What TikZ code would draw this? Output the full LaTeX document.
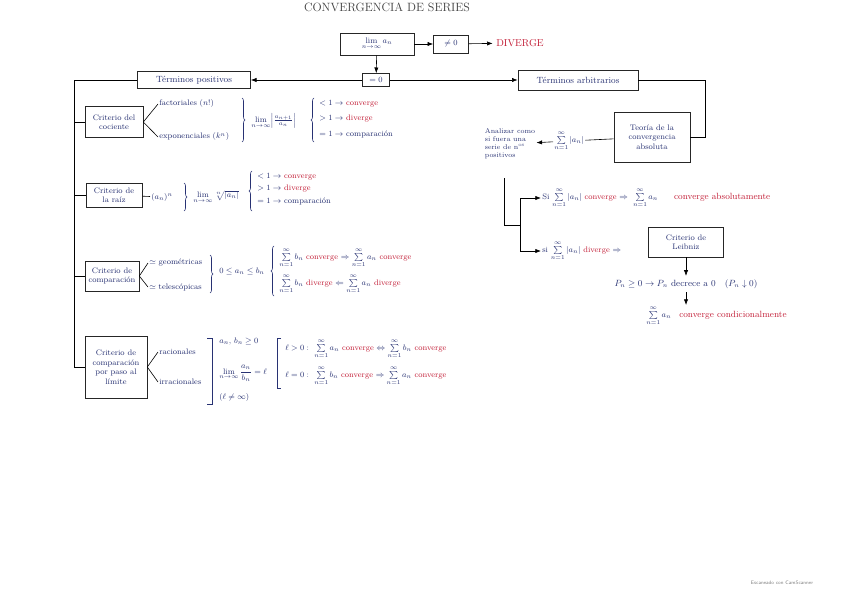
\documentclass[tikz,border=0pt]{standalone}
\usepackage{amsmath}
\usepackage{amssymb}
\usetikzlibrary{arrows.meta,positioning,decorations.pathreplacing}
\definecolor{ink}{RGB}{40,50,115}
\definecolor{rojo}{RGB}{195,30,55}
\newcommand{\cv}{\textcolor{rojo}{converge}}
\newcommand{\dv}{\textcolor{rojo}{diverge}}

\begin{document}
\begin{tikzpicture}[x=1pt,y=-1pt,font=\footnotesize,text=ink,line width=0.6pt,
  b/.style={draw=black!85,align=center,inner sep=2pt},
  l/.style={anchor=west,inner sep=1pt},
  br/.style={draw=ink,decorate,decoration={brace,amplitude=3pt}}]
\useasboundingbox[fill=white] (0,0) rectangle (848,599);

% arriba
\node[font=\large,text=black!75] (tit) at (387,7) {CONVERGENCIA DE SERIES};
\node[b,minimum width=74,minimum height=22] (lim) at (377,44) {$\lim\limits_{n\to\infty} a_n$};
\node[b,minimum width=35,minimum height=18] (ne) at (451,44) {$\neq 0$};
\node[text=rojo,font=\normalsize] (dv) at (520,43) {DIVERGE};
\node[b,minimum width=27,minimum height=13] (eq) at (376,80) {$=0$};
\node[b,minimum width=113,minimum height=17,font=\small] (tp) at (194,80) {Términos positivos};
\node[b,minimum width=120,minimum height=20,font=\small] (ta) at (578,80) {Términos arbitrarios};
\draw[-{Latex}] (lim) -- (ne);
\draw[-{Latex}] (ne) -- (dv);
\draw[-{Latex}] (lim) -- (eq);
\draw[-{Latex}] (eq) -- (tp);
\draw[-{Latex}] (eq) -- (ta);

% terminos positivos
\node[b,minimum width=58,minimum height=31] (cc) at (114,122) {Criterio del\\cociente};
\node[b,minimum width=56,minimum height=24] (rz) at (114,195) {Criterio de\\la raíz};
\node[b,minimum width=54,minimum height=30] (cp) at (112,276) {Criterio de\\comparación};
\node[b,minimum width=62,minimum height=62] (lp) at (116,367) {Criterio de\\comparación\\por paso al\\límite};
\coordinate (sp) at (74,80);
\draw (tp) -- (sp) |- (lp);
\foreach \n in {cc,rz,cp} \draw (sp|-\n) -- (\n);

% cociente
\node[l] (fa) at (158,104) {factoriales $(n!)$};
\node[l] (ex) at (158,137) {exponenciales $(k^n)$};
\draw (cc.east) -- (fa.west);
\draw (cc.east) -- (ex.west);
\draw[br] (242,98) -- (242,142);
\node[l] (lc) at (250,121) {$\lim\limits_{n\to\infty}\Bigl|\frac{a_{n+1}}{a_n}\Bigr|$};
\draw[br] (314,142) -- (314,98);
\foreach \y/\t in {104/{$<1\to$ \cv},119/{$>1\to$ \dv},134/{$=1\to$ comparación}}
  \node[l] (c\y) at (318,\y) {\t};

% raiz
\node[l] (pw) at (150,197) {$(a_n)^n$};
\draw (rz) -- (pw);
\draw[br] (184,183) -- (184,211);
\node[l] (lr) at (192,197) {$\lim\limits_{n\to\infty}\sqrt[n]{|a_n|}$};
\draw[br] (252,211) -- (252,171);
\foreach \y/\t in {177/{$<1\to$ \cv},189/{$>1\to$ \dv},201/{$=1\to$ comparación}}
  \node[l] (r\y) at (256,\y) {\t};

% comparacion
\node[l] (ge) at (148,263) {$\simeq$ geométricas};
\node[l] (te) at (148,287) {$\simeq$ telescópicas};
\draw (cp.east) -- (ge.west);
\draw (cp.east) -- (te.west);
\draw[br] (210,255) -- (210,293);
\node[l] (ab) at (218,271) {$0\le a_n\le b_n$};
\draw[br] (274,296) -- (274,246);
\node[l] (m1) at (278,258) {$\sum\limits_{n=1}^{\infty} b_n$ \cv{} $\Rightarrow\sum\limits_{n=1}^{\infty} a_n$ \cv};
\node[l] (m2) at (278,284) {$\sum\limits_{n=1}^{\infty} b_n$ \dv{} $\Leftarrow\sum\limits_{n=1}^{\infty} a_n$ \dv};

% paso al limite
\node[l] (ra) at (158,352) {racionales};
\node[l] (ir) at (158,382) {irracionales};
\draw (lp.east) -- (ra.west);
\draw (lp.east) -- (ir.west);
\draw[ink] (207,338) -- (212,338) -- (212,404) -- (207,404);
\node[l] (ps) at (218,341) {$a_n,\,b_n\ge 0$};
\node[l] (ll) at (218,373) {$\lim\limits_{n\to\infty}\dfrac{a_n}{b_n}=\ell$};
\node[l] (lf) at (218,397) {$(\ell\ne\infty)$};
\draw[ink] (281,338) -- (277,338) -- (277,388) -- (281,388);
\node[l] (l1) at (284,349) {$\ell>0:\ \sum\limits_{n=1}^{\infty} a_n$ \cv{} $\Leftrightarrow\sum\limits_{n=1}^{\infty} b_n$ \cv};
\node[l] (l2) at (284,376) {$\ell=0:\ \sum\limits_{n=1}^{\infty} b_n$ \cv{} $\Rightarrow\sum\limits_{n=1}^{\infty} a_n$ \cv};

% terminos arbitrarios
\node[b,minimum width=76,minimum height=50] (th) at (652,137) {Teoría de la\\convergencia\\absoluta};
\coordinate (rc) at (705,80);
\draw (ta) -- (rc) |- (th);
\node[l] (sa) at (553,141) {$\sum\limits_{n=1}^{\infty}|a_n|$};
\draw (th) -- (sa);
\node[align=left,font=\scriptsize,inner sep=1pt] (an) at (510,144) {Analizar como\\si fuera una\\serie de n\textsuperscript{os}\\positivos};
\draw[-{Latex}] (sa) -- (an);
\coordinate (k1) at (504,178);
\coordinate (k2) at (504,225);
\coordinate (k3) at (520,225);
\node[l] (s1) at (541,198) {Si $\sum\limits_{n=1}^{\infty}|a_n|$ \cv{} $\Rightarrow\ \sum\limits_{n=1}^{\infty} a_n$\qquad{\small\textcolor{rojo}{converge absolutamente}}};
\node[l] (s2) at (541,251) {si $\sum\limits_{n=1}^{\infty}|a_n|$ \dv{} $\Rightarrow$};
\node[b,minimum width=75,minimum height=30] (lb) at (686,242) {Criterio de\\Leibniz};
\draw (k1) -- (k2) -- (k3);
\draw[-{Latex}] (k3) |- (s1);
\draw[-{Latex}] (k3) |- (s2);
\node[font=\small] (pn) at (686,284) {$P_n\ge 0\to P_n$ decrece a $0$\quad $(P_n\downarrow 0)$};
\node[l] (cd) at (645,316) {$\sum\limits_{n=1}^{\infty} a_n$\quad{\small\textcolor{rojo}{converge condicionalmente}}};
\draw[-{Latex}] (lb) -- (lb|-pn.north);
\draw[-{Latex}] (pn) -- (pn|-cd.north);

\node[text=black!50,font=\tiny\sffamily] (cs) at (782,583) {Escaneado con CamScanner};
\end{tikzpicture}
\end{document}
